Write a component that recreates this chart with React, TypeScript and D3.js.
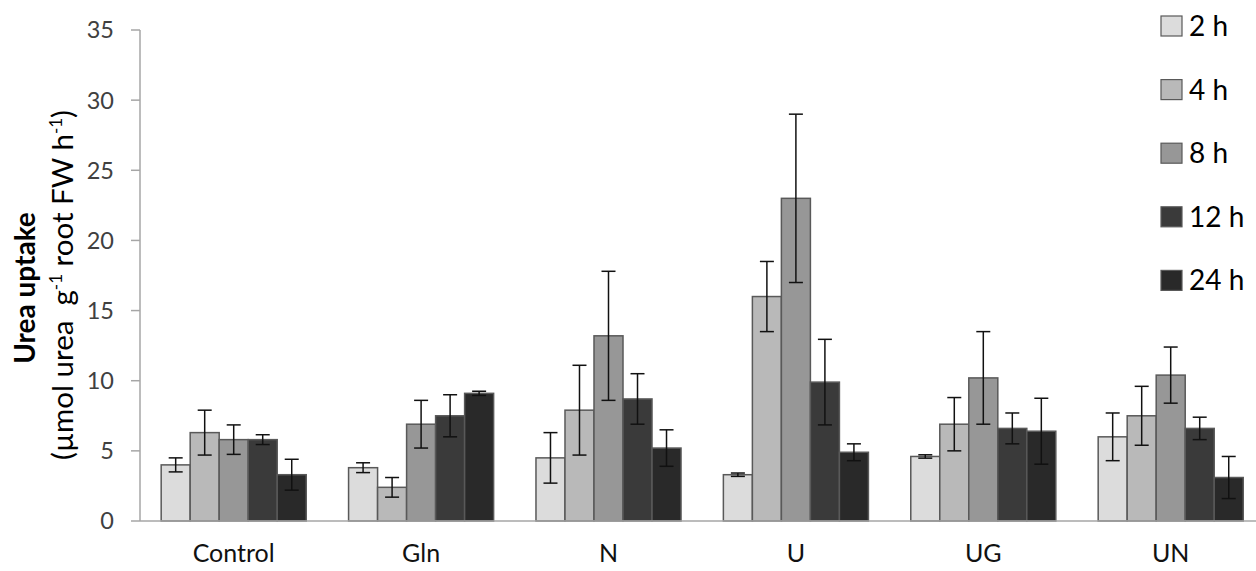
import React from "react";
import * as d3 from "d3";

const categories = ["Control", "Gln", "N", "U", "UG", "UN"];
const series = ["2 h", "4 h", "8 h", "12 h", "24 h"];
const colors = ["#dcdcdc", "#b9b9b9", "#979797", "#3a3a3a", "#292929"];

// mean per series, one entry per category
const h2 = [4.0, 3.8, 4.5, 3.3, 4.6, 6.0];
const h4 = [6.3, 2.4, 7.9, 16.0, 6.9, 7.5];
const h8 = [5.8, 6.9, 13.2, 23.0, 10.2, 10.4];
const h12 = [5.8, 7.5, 8.7, 9.9, 6.6, 6.6];
const h24 = [3.3, 9.1, 5.2, 4.9, 6.4, 3.1];

// error (+/-)
const e2 = [0.5, 0.35, 1.8, 0.12, 0.12, 1.7];
const e4 = [1.6, 0.7, 3.2, 2.5, 1.9, 2.1];
const e8 = [1.05, 1.7, 4.6, 6.0, 3.3, 2.0];
const e12 = [0.35, 1.5, 1.8, 3.05, 1.1, 0.8];
const e24 = [1.1, 0.15, 1.3, 0.6, 2.35, 1.5];

const yTicks = [0, 5, 10, 15, 20, 25, 30, 35];

const means = [h2, h4, h8, h12, h24];
const errs = [e2, e4, e8, e12, e24];

const W = 1256;
const H = 571;
const font = "Lato, 'Open Sans', sans-serif";

export default function App() {
  const x0 = d3
    .scaleBand()
    .domain(categories)
    .range([140, 140 + 6 * 187.4])
    .paddingInner(0.226)
    .paddingOuter(0.113);
  const x1 = d3.scaleBand().domain(series).range([0, x0.bandwidth()]);
  const y = d3.scaleLinear().domain([0, 35]).range([521, 30]);

  const axisColor = "#a6a6a6";

  return (
    <svg width={W} height={H} style={{ position: "absolute", left: 0, top: 0, background: "#fff" }}>
      {/* y axis */}
      <line x1={140} x2={140} y1={y(35)} y2={y(0)} stroke={axisColor} strokeWidth={1.5} />
      {yTicks.map(t => (
        <g key={t}>
          <line x1={131} x2={140} y1={y(t)} y2={y(t)} stroke={axisColor} strokeWidth={1.5} />
          <text x={114} y={y(t)} dy="0.36em" textAnchor="end" fontFamily={font} fontSize={23.5} fill="#404040">
            {t}
          </text>
        </g>
      ))}

      {/* bars */}
      {categories.map((c, ci) => (
        <g key={c} transform={`translate(${x0(c)},0)`}>
          {series.map((s, si) => {
            const v = means[si][ci];
            const e = errs[si][ci];
            const bx = x1(s)!;
            const cx = bx + x1.bandwidth() / 2;
            return (
              <g key={s}>
                <rect
                  x={bx}
                  y={y(v)}
                  width={x1.bandwidth()}
                  height={y(0) - y(v)}
                  fill={colors[si]}
                  stroke="#595959"
                  strokeWidth={1.5}
                />
                <line x1={cx} x2={cx} y1={y(v + e)} y2={y(v - e)} stroke="#111" strokeWidth={1.5} />
                <line x1={cx - 7} x2={cx + 7} y1={y(v + e)} y2={y(v + e)} stroke="#111" strokeWidth={1.5} />
                <line x1={cx - 7} x2={cx + 7} y1={y(v - e)} y2={y(v - e)} stroke="#111" strokeWidth={1.5} />
              </g>
            );
          })}
        </g>
      ))}

      {/* x axis */}
      <line x1={140} x2={W} y1={y(0)} y2={y(0)} stroke={axisColor} strokeWidth={1.5} />
      {categories.map(c => (
        <text
          key={c}
          x={x0(c)! + x0.bandwidth() / 2}
          y={562}
          textAnchor="middle"
          fontFamily={font}
          fontSize={25}
          fill="#111"
        >
          {c}
        </text>
      ))}

      {/* y label */}
      <g transform="translate(35,288) rotate(-90)">
        <text textAnchor="middle" fontFamily={font} fontSize={28} fontWeight="bold" fill="#000">
          Urea uptake
        </text>
      </g>
      <g transform="translate(73,285) rotate(-90)">
        <text textAnchor="middle" fontFamily={font} fontSize={29.5} fill="#000" style={{ whiteSpace: "pre" }}>
          (µmol urea  g<tspan fontSize={17} dy={-11}>-1</tspan>
          <tspan dy={11}> root FW h</tspan>
          <tspan fontSize={17} dy={-11}>-1</tspan>
          <tspan dy={11}>)</tspan>
        </text>
      </g>

      {/* legend */}
      {series.map((s, i) => {
        const ly = 26 + i * 63.6;
        return (
          <g key={s}>
            <rect x={1161} y={ly - 10} width={21} height={20} fill={colors[i]} stroke="#595959" strokeWidth={1.2} />
            <text x={1189} y={ly} dy="0.36em" fontFamily={font} fontSize={28} fill="#000">
              {s}
            </text>
          </g>
        );
      })}
    </svg>
  );
}
